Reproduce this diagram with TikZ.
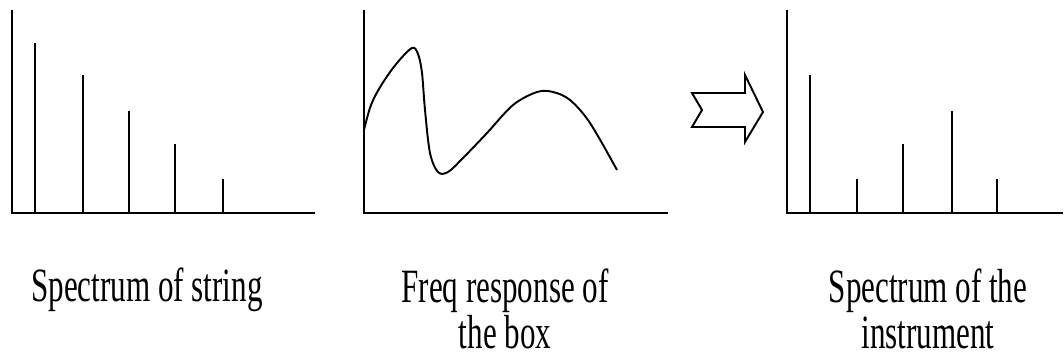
\documentclass[tikz,border=0pt]{standalone}
\usepackage{fontspec}
\setmainfont{Liberation Serif}
\usepackage{tikz}
\usetikzlibrary{positioning}

\begin{document}
\begin{tikzpicture}[x=0.02cm, y=-0.02cm, line width=1.1pt,
  axis/.style={draw=black, line width=1.2pt},
  spike/.style={draw=black, line width=1.1pt},
  caption/.style={inner sep=0pt, anchor=base, align=center, xscale=0.65,
    font=\fontsize{27.2}{26.1}\selectfont}]
  \useasboundingbox (0,0) rectangle (1064,360);

  % spectrum of the string
  \draw[axis] (12,10) -- (12,213) -- (315,213);
  \foreach \xpos/\ytop in {35/43, 83/75, 129/111, 175/144, 223/179}
    \draw[spike] (\xpos,213) -- (\xpos,\ytop);
  \node[caption] (strlabel) at (147,301) {Spectrum of string};

  % frequency response of the box
  \draw[axis] (364,10) -- (364,213) -- (668,213);
  \draw[line width=1.1pt] plot[smooth, tension=0.55] coordinates {
    (364,130) (371,105) (382,84) (397,63) (412,48) (418,54) (422,73)
    (425,110) (430,153) (438,172) (448,172) (463,158) (487,133)
    (513,105) (537,92) (553,92) (570,100) (590,123) (617,170)};
  \node[caption] (boxlabel) at (505,348) {Freq response of\\the box};

  % block arrow
  \draw[line width=1.1pt, line join=miter]
    (692,93) -- (745,93) -- (745,75) -- (763,112) -- (745,142)
    -- (745,127) -- (692,127) -- (702,110) -- cycle;

  % spectrum of the instrument
  \draw[axis] (787,10) -- (787,213) -- (1063,213);
  \foreach \xpos/\ytop in {810/75, 857/179, 903/144, 952/111, 997/179}
    \draw[spike] (\xpos,213) -- (\xpos,\ytop);
  \node[caption] (instlabel) at (928,348) {Spectrum of the\\instrument};
\end{tikzpicture}
\end{document}
